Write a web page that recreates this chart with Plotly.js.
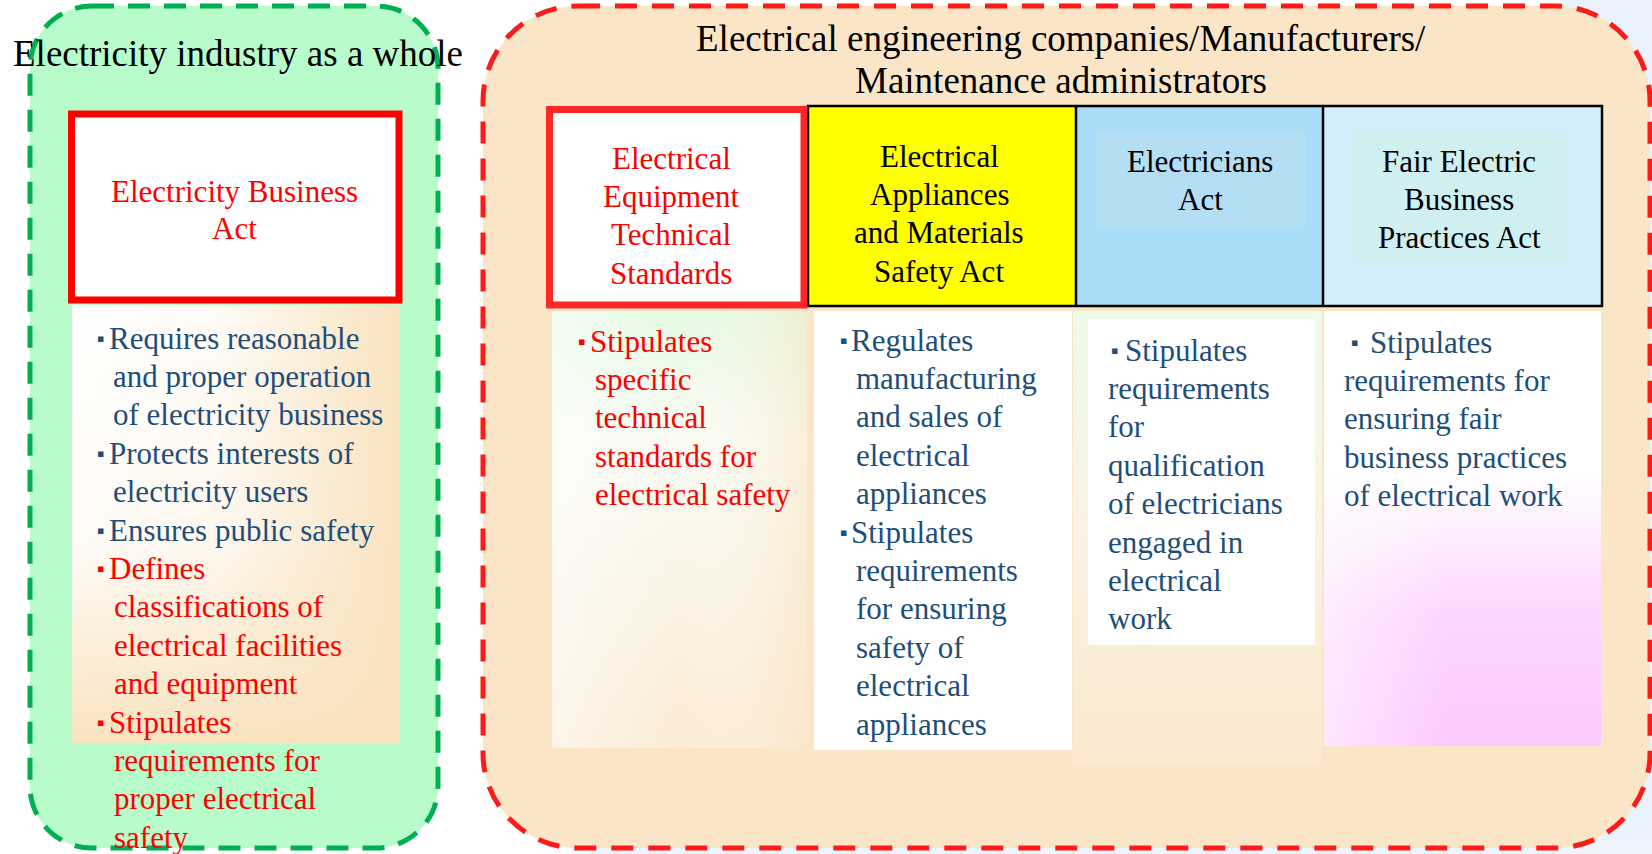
<!DOCTYPE html>
<html><head><meta charset="utf-8">
<script src="https://cdn.plot.ly/plotly-3.0.1.min.js"></script>
<style>html,body{margin:0;padding:0;background:#fff;overflow:hidden;}</style>
</head><body><div id="chart" style="width:1652px;height:854px;"></div>
<script>
// ---------------- content (text data) ----------------
const leftGroupTitle = ["Electricity industry as a whole"];
const rightGroupTitle = ["Electrical engineering companies/Manufacturers/", "Maintenance administrators"];
const leftActName = ["Electricity Business", "Act"];
const leftDutiesBlue = ["・Requires reasonable", "and proper operation", "of electricity business", "・Protects interests of", "electricity users", "・Ensures public safety"];
const leftDutiesRed = ["・Defines", "classifications of", "electrical facilities", "and equipment", "・Stipulates", "requirements for", "proper electrical", "safety"];
const actNames = [
  ["Electrical", "Equipment", "Technical", "Standards"],
  ["Electrical", "Appliances", "and Materials", "Safety Act"],
  ["Electricians", "Act"],
  ["Fair Electric", "Business", "Practices Act"]
];
const actDuties = [
  ["・Stipulates", "specific", "technical", "standards for", "electrical safety"],
  ["・Regulates", "manufacturing", "and sales of", "electrical", "appliances", "・Stipulates", "requirements", "for ensuring", "safety of", "electrical", "appliances"],
  ["・Stipulates", "requirements", "for", "qualification", "of electricians", "engaged in", "electrical", "work"],
  ["・Stipulates", "requirements for", "ensuring fair", "business practices", "of electrical work"]
];

// ---------------- layout / style constants ----------------
const W = 1652, H = 854;
const FONT = 'Liberation Serif, Times New Roman, serif';
const BLUE = '#1F4E79', RED = '#FF0000', BLACK = '#000000';
const LH = 38.4;           // line height of body text
const BODY = 31, TITLE = 37;

// column geometry
const cols = [
  {hx0: 546, hx1: 807, cx: 671, nameY: 158, nameColor: RED,   dutyColor: RED,  bx: 576,  tx: 588,  ix: 593,  dy: 341},
  {hx0: 808, hx1: 1076, cx: 939, nameY: 156, nameColor: BLACK, dutyColor: BLUE, bx: 838,  tx: 849,  ix: 854,  dy: 340},
  {hx0: 1076, hx1: 1323, cx: 1200, nameY: 161, nameColor: BLACK, dutyColor: BLUE, bx: 1109, tx: 1123, ix: 1106, dy: 350},
  {hx0: 1323, hx1: 1602, cx: 1459, nameY: 161, nameColor: BLACK, dutyColor: BLUE, bx: 1349, tx: 1368, ix: 1342, dy: 342}
];

function rr(x0, y0, x1, y1, r) {
  const k = 0.5523 * r;
  return `M${x0 + r},${y0} L${x1 - r},${y0} C${x1 - r + k},${y0} ${x1},${y0 + r - k} ${x1},${y0 + r} ` +
    `L${x1},${y1 - r} C${x1},${y1 - r + k} ${x1 - r + k},${y1} ${x1 - r},${y1} ` +
    `L${x0 + r},${y1} C${x0 + r - k},${y1} ${x0},${y1 - r + k} ${x0},${y1 - r} ` +
    `L${x0},${y0 + r} C${x0},${y0 + r - k} ${x0 + r - k},${y0} ${x0 + r},${y0} Z`;
}

const shapes = [];
const traces = [];
const annotations = [];

// faint blue haze outside the right container
shapes.push({type: 'rect', layer: 'below', x0: 1560, y0: 0, x1: 1652, y1: 854, fillcolor: '#EAF3FB', line: {width: 0}});
shapes.push({type: 'rect', layer: 'below', x0: 590, y0: 840, x1: 1652, y1: 854, fillcolor: '#EEF5FC', line: {width: 0}});
// group containers
shapes.push({type: 'path', layer: 'below', path: rr(30, 6, 438, 848, 62), fillcolor: '#B8FCCC',
  line: {color: '#00B050', width: 5, dash: '22px,14px'}});
shapes.push({type: 'path', layer: 'below', path: rr(483, 6, 1650, 848, 95), fillcolor: '#FAE6C6',
  line: {color: '#FF1A1A', width: 5, dash: '22px,15px'}});

// gradient panels (scatter fills)
function panel(x0, y0, x1, y1, grad, color) {
  const t = {x: [x0, x1, x1, x0, x0], y: [y0, y0, y1, y1, y0], mode: 'lines', fill: 'toself',
    line: {width: 0, color: 'rgba(0,0,0,0)'}, hoverinfo: 'skip', showlegend: false};
  if (grad) t.fillgradient = grad; else t.fillcolor = color;
  traces.push(t);
}
const BEIGE = '249,227,192';
// left panel: white top-left, beige to the right and bottom
panel(72, 305, 400, 743, {type: 'horizontal', start: 72, stop: 400,
  colorscale: [[0, '#FFFFFF'], [0.45, '#FEFBF6'], [1, '#F9E3C0']]});
panel(72, 305, 400, 743, {type: 'vertical', start: 305, stop: 743,
  colorscale: [[0, 'rgba(' + BEIGE + ',0)'], [0.55, 'rgba(' + BEIGE + ',0.15)'], [1, 'rgba(' + BEIGE + ',1)']]});
// column 1 panel: green tint top -> cream -> beige
panel(552, 311, 807, 748, {type: 'vertical', start: 311, stop: 748,
  colorscale: [[0, '#E4FAE2'], [0.3, '#FBFBF4'], [1, '#FAEBD4']]});
panel(552, 311, 807, 748, {type: 'horizontal', start: 552, stop: 807,
  colorscale: [[0, 'rgba(255,255,255,0.5)'], [0.5, 'rgba(255,255,255,0)'], [1, 'rgba(' + BEIGE + ',0.5)']]});
// column 2 panel: white
panel(814, 311, 1072, 750, null, '#FFFFFF');
// column 3 panel: outer tinted + inner white
panel(1073, 311, 1322, 764, {type: 'vertical', start: 311, stop: 764,
  colorscale: [[0, '#EDFBEA'], [0.5, '#FBF2E3'], [1, '#FAE9CE']]});
panel(1088, 319, 1315, 645, null, '#FFFFFF');
// column 4 panel: white with pink glow
panel(1324, 311, 1601, 746, {type: 'vertical', start: 311, stop: 746,
  colorscale: [[0, '#FFFFFF'], [0.38, '#FFFFFF'], [0.7, '#FCD6FD'], [1, '#FCC9FD']]});
panel(1324, 311, 1601, 746, {type: 'horizontal', start: 1324, stop: 1601,
  colorscale: [[0, 'rgba(255,255,255,0.55)'], [0.45, 'rgba(255,255,255,0)'], [1, 'rgba(255,255,255,0)']]});

// left act box
shapes.push({type: 'rect', x0: 71.5, y0: 114, x1: 399, y1: 300, fillcolor: '#FFFFFF', line: {color: RED, width: 7}});
// header boxes
shapes.push({type: 'rect', x0: cols[1].hx0, y0: 106, x1: cols[1].hx1, y1: 306, fillcolor: '#FFFF00', line: {width: 0}});
shapes.push({type: 'rect', x0: cols[2].hx0, y0: 106, x1: cols[2].hx1, y1: 306, fillcolor: '#A8DCF7', line: {width: 0}});
shapes.push({type: 'rect', x0: 1096, y0: 132, x1: 1306, y1: 227, fillcolor: '#B3DEF3', line: {width: 0}});
shapes.push({type: 'rect', x0: cols[3].hx0, y0: 106, x1: cols[3].hx1, y1: 306, fillcolor: '#D3EDFB', line: {width: 0}});
shapes.push({type: 'rect', x0: 1354, y0: 132, x1: 1565, y1: 263, fillcolor: '#CFEFF1', line: {width: 0}});
shapes.push({type: 'rect', x0: cols[1].hx0, y0: 106, x1: cols[3].hx1, y1: 306, line: {color: BLACK, width: 2.5}});
shapes.push({type: 'line', x0: cols[2].hx0, y0: 106, x1: cols[2].hx0, y1: 306, line: {color: BLACK, width: 2.5}});
shapes.push({type: 'line', x0: cols[3].hx0, y0: 106, x1: cols[3].hx0, y1: 306, line: {color: BLACK, width: 2.5}});
shapes.push({type: 'rect', x0: 549.5, y0: 109.5, x1: 804, y1: 305, fillcolor: '#FFFFFF', line: {color: '#FF2626', width: 7}});

// text helpers
function txt(text, x, y, size, color, anchor) {
  annotations.push({x: x, y: y, xref: 'x', yref: 'y', text: text, showarrow: false,
    xanchor: anchor || 'center', yanchor: 'middle', font: {family: FONT, size: size, color: color}});
}
function bulletBlock(lines, bx, tx, ix, y0, color) {
  lines.forEach((s, i) => {
    const y = y0 + i * LH;
    if (s.startsWith('・')) {
      annotations.push({x: bx, y: y, xref: 'x', yref: 'y', text: '▪', showarrow: false,
        xanchor: 'left', yanchor: 'middle', font: {family: 'DejaVu Sans', size: 11, color: color}});
      txt(s.slice(1).trim(), tx, y, BODY, color, 'left');
    } else {
      txt(s, ix, y, BODY, color, 'left');
    }
  });
}

// titles
txt(leftGroupTitle[0], 238, 53, TITLE, BLACK);
rightGroupTitle.forEach((s, i) => txt(s, 1061, 38 + i * 42, TITLE, BLACK));
// left act
leftActName.forEach((s, i) => txt(s, 234, 191 + i * 37, BODY, RED));
bulletBlock(leftDutiesBlue, 95, 107, 111, 338, BLUE);
bulletBlock(leftDutiesRed, 95, 107, 112, 338 + leftDutiesBlue.length * LH, RED);
// columns
cols.forEach((c, k) => {
  actNames[k].forEach((s, i) => txt(s, c.cx, c.nameY + i * LH, BODY, c.nameColor));
  bulletBlock(actDuties[k], c.bx, c.tx, c.ix, c.dy, c.dutyColor);
});

const layout = {
  width: W, height: H, margin: {l: 0, r: 0, t: 0, b: 0},
  paper_bgcolor: '#FFFFFF', plot_bgcolor: 'rgba(0,0,0,0)',
  font: {family: FONT},
  xaxis: {range: [0, W], visible: false, fixedrange: true},
  yaxis: {range: [H, 0], visible: false, fixedrange: true},
  showlegend: false, shapes: shapes, annotations: annotations
};
Plotly.newPlot('chart', traces, layout, {staticPlot: true, displayModeBar: false});
</script>
</body></html>
